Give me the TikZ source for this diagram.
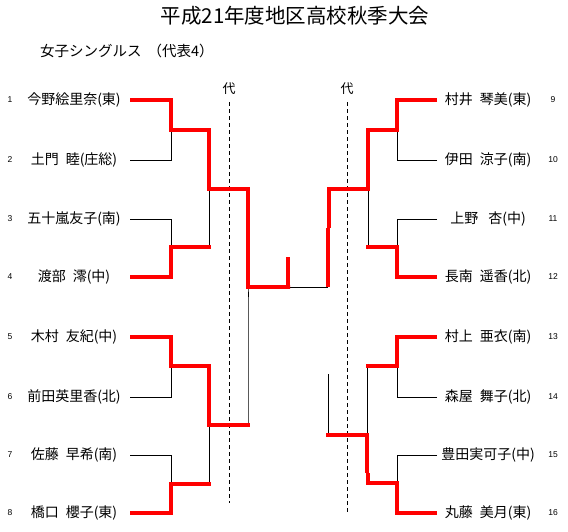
\documentclass[tikz,border=0pt]{standalone}
\usepackage{fontspec}
\setmainfont{Noto Sans CJK JP}
\newfontfamily\numfont{Liberation Sans}
\newcommand{\gp}{\hspace{7pt}}
\begin{document}
\begin{tikzpicture}[x=1pt,y=-1pt,
  win/.style={draw=red, line width=4pt, line join=miter},
  lose/.style={draw=black, line width=0.9pt},
  pname/.style={font=\fontsize{14pt}{16pt}\selectfont, inner sep=0pt, anchor=center},
  pnum/.style={font=\numfont\fontsize{8.5pt}{10pt}\selectfont, inner sep=0pt},
  dai/.style={font=\fontsize{13pt}{15pt}\selectfont, inner sep=0pt},
  repline/.style={draw=black, line width=0.9pt, dash pattern=on 4pt off 3pt}]
\useasboundingbox (0,0) rectangle (568,531);
% titles
\node[font=\fontsize{20.5pt}{23pt}\selectfont, inner sep=0pt] (title) at (295,16) {平成21年度地区高校秋季大会};
\node[font=\fontsize{14.5pt}{16pt}\selectfont, inner sep=0pt, anchor=west] (subtitle) at (40,51) {女子シングルス\hspace{6pt}（代表4）};
% representative lines
\node[dai] (daiL) at (229,89) {代};
\node[dai] (daiR) at (347,89) {代};
\coordinate (dLt) at (229,102); \coordinate (dLb) at (229,503);
\coordinate (dRt) at (347,102); \coordinate (dRb) at (347,513);
\draw[repline] (dLt) -- (dLb);
\draw[repline] (dRt) -- (dRb);
% left players
\foreach \i/\y/\n in {1/100/今野絵里奈(東),2/160/土門\gp 睦(庄総),3/219/五十嵐友子(南),4/277/渡部\gp 澪(中),5/337/木村\gp 友紀(中),6/397/前田英里香(北),7/455/佐藤\gp 早希(南),8/513/橋口\gp 櫻子(東)}{
  \node[pnum] (n\i) at (10,\y) {\i};
  \node[pname] (p\i) at (74,\y) {\n};
  \coordinate (e\i) at (130,\y);
}
% right players
\foreach \i/\y/\n in {9/100/村井\gp 琴美(東),10/160/伊田\gp 涼子(南),11/219/上野\gp\hspace{3pt}杏(中),12/277/長南\gp 遥香(北),13/337/村上\gp 亜衣(南),14/397/森屋\gp 舞子(北),15/455/豊田実可子(中),16/513/丸藤\gp 美月(東)}{
  \node[pnum] (n\i) at (553,\y) {\i};
  \node[pname] (p\i) at (488,\y) {\n};
  \coordinate (e\i) at (437,\y);
}
% junction coordinates
\coordinate (a12) at (171,130); \coordinate (a34) at (171,247);
\coordinate (a56) at (171,366); \coordinate (a78) at (171,484);
\coordinate (b14) at (209,189); \coordinate (b58) at (209,425);
\coordinate (c18) at (248,287);
\coordinate (a910) at (397,130); \coordinate (a1112) at (397,247);
\coordinate (a1314) at (397,366); \coordinate (a1516) at (397,483);
\coordinate (b912) at (368,189); \coordinate (b1316) at (367,435);
\coordinate (c916) at (328,287);
% left bracket, black
\draw[lose] (e2) -- (171,160) -- (a12);
\draw[lose] (e3) -- (171,219) -- (a34);
\draw[lose] (209,247) -- (b14);
\draw[lose] (e6) -- (171,397) -- (a56);
\draw[lose] (e7) -- (171,455) -- (a78);
\draw[lose] (209,484) -- (b58);
\draw[lose] (248,425) -- (c18) -- (248,297);
\draw[lose] (288,287) -- (c916);
% left bracket, red
\draw[win] (e1) -- (171,100) -- (a12) -- (209,130) -- (b14) -- (c18 |- b14) -- (c18) -- (290,287) -- (288,287) -- (288,257);
\draw[win] (e4) -- (171,277) -- (a34) -- (211,247);
\draw[win] (e5) -- (171,337) -- (a56) -- (209,366) -- (b58) -- (250,425);
\draw[win] (e8) -- (171,513) -- (a78) -- (211,484);
% right bracket, black
\draw[lose] (e10) -- (397,160) -- (a910);
\draw[lose] (e11) -- (397,219) -- (a1112);
\draw[lose] (368,247) -- (b912);
\draw[lose] (e14) -- (397,397) -- (a1314);
\draw[lose] (e15) -- (397,455) -- (a1516);
\draw[lose] (367,366) -- (b1316);
\draw[lose] (328,374) -- (328,435);
% right bracket, red
\draw[win] (e9) -- (397,100) -- (a910) -- (368,130) -- (b912) -- (329,189) -- (329,228);
\draw[win] (c916) -- (328,228);
\draw[win] (e12) -- (397,277) -- (a1112) -- (366,247);
\draw[win] (e13) -- (397,337) -- (a1314) -- (366,366);
\draw[win] (e16) -- (397,513) -- (a1516) -- (368,483) -- (368,473);
\draw[win] (367,473) -- (b1316) -- (326,435);
\end{tikzpicture}
\end{document}
